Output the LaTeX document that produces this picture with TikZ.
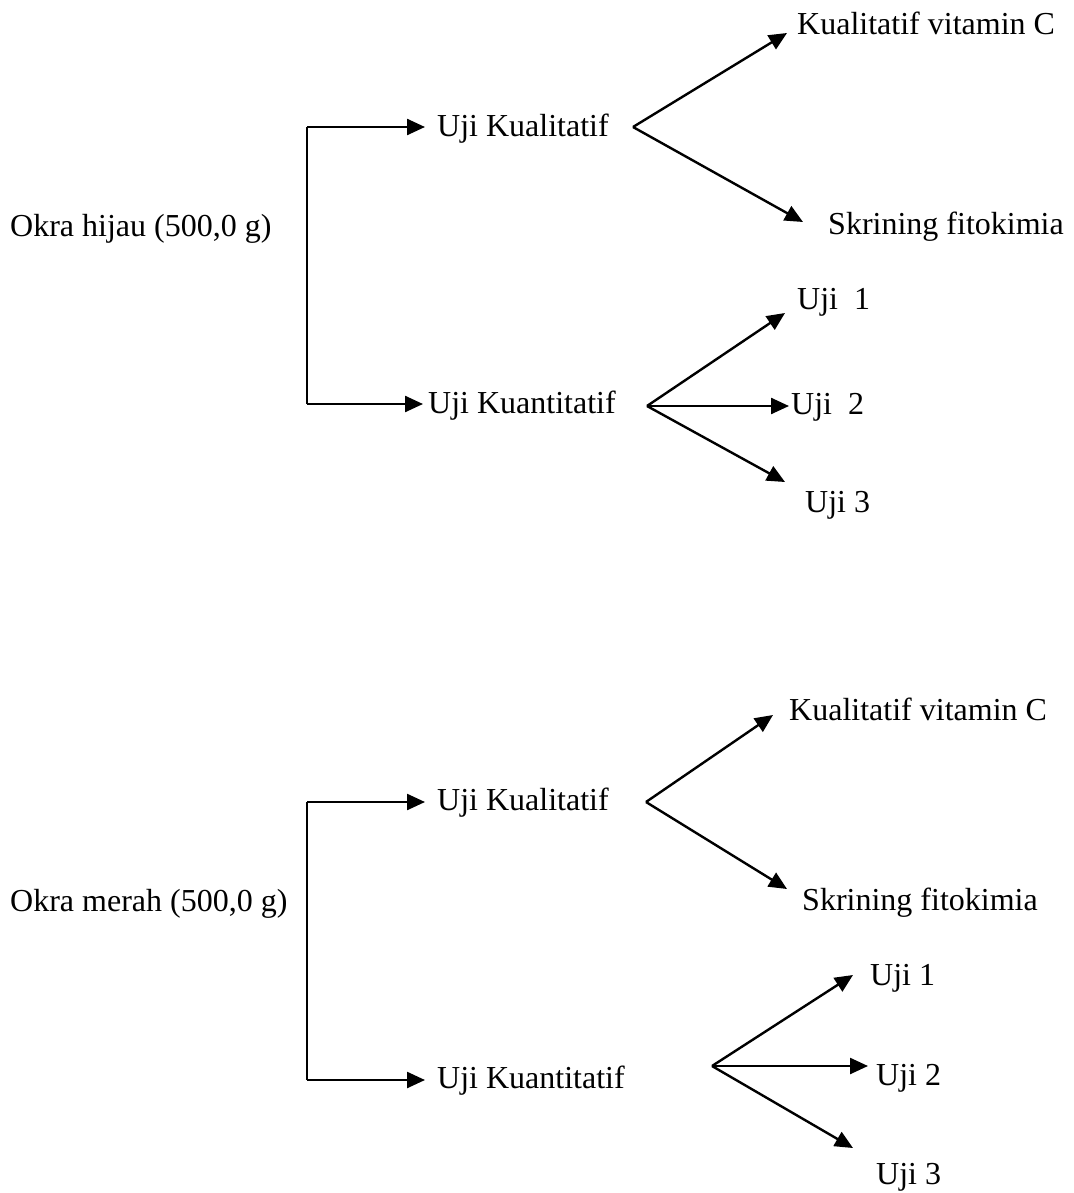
\documentclass[tikz,border=0pt]{standalone}
\usepackage{fontspec}
\setmainfont{Liberation Serif}
\usetikzlibrary{arrows.meta}
\tikzset{
  lbl/.style={anchor=base west, inner sep=0pt, font=\fontsize{32}{38}\selectfont},
  arr/.style={line width=2.4pt, -{Triangle[length=18pt,width=16pt]}},
  ln/.style={line width=2.4pt}
}
\begin{document}
\begin{tikzpicture}[x=1pt,y=-1pt]
\useasboundingbox (0,0) rectangle (1073,1193);
% ---------- group 1 ----------
\node[lbl] (okh) at (10,236) {Okra hijau (500,0 g)};
\coordinate (b1t) at (307,127);
\coordinate (b1b) at (307,404);
\coordinate (t1a) at (425,127);
\coordinate (t1b) at (423,404);
\node[lbl] (kl1) at (437,137) {Uji Kualitatif};
\node[lbl] (kn1) at (428,413) {Uji Kuantitatif};
\draw[ln] (b1b) -- (b1t);
\draw[arr] (b1t) -- (t1a);
\draw[arr] (b1b) -- (t1b);
\coordinate (f1) at (633,127);
\coordinate (f1a) at (787,33);
\coordinate (f1b) at (803,222);
\node[lbl] (vc1) at (797,35) {Kualitatif vitamin C};
\node[lbl] (sf1) at (828,234) {Skrining fitokimia};
\draw[arr] (f1) -- (f1a);
\draw[arr] (f1) -- (f1b);
\coordinate (f2) at (647,406);
\coordinate (f2a) at (785,313);
\coordinate (f2b) at (789,406);
\coordinate (f2c) at (785,482);
\node[lbl] (u11) at (797,309) {Uji~~1};
\node[lbl] (u12) at (791,414) {Uji~~2};
\node[lbl] (u13) at (805,512) {Uji 3};
\draw[arr] (f2) -- (f2a);
\draw[arr] (f2) -- (f2b);
\draw[arr] (f2) -- (f2c);
% ---------- group 2 ----------
\node[lbl] (okm) at (10,911) {Okra merah (500,0 g)};
\coordinate (b2t) at (307,802);
\coordinate (b2b) at (307,1080);
\coordinate (t2a) at (425,802);
\coordinate (t2b) at (425,1080);
\node[lbl] (kl2) at (437,810) {Uji Kualitatif};
\node[lbl] (kn2) at (437,1088) {Uji Kuantitatif};
\draw[ln] (b2b) -- (b2t);
\draw[arr] (b2t) -- (t2a);
\draw[arr] (b2b) -- (t2b);
\coordinate (f3) at (646,802);
\coordinate (f3a) at (773,715);
\coordinate (f3b) at (787,889);
\node[lbl] (vc2) at (789,720) {Kualitatif vitamin C};
\node[lbl] (sf2) at (802,910) {Skrining fitokimia};
\draw[arr] (f3) -- (f3a);
\draw[arr] (f3) -- (f3b);
\coordinate (f4) at (712,1066);
\coordinate (f4a) at (853,975);
\coordinate (f4b) at (868,1066);
\coordinate (f4c) at (853,1148);
\node[lbl] (u21) at (870,985) {Uji 1};
\node[lbl] (u22) at (876,1085) {Uji 2};
\node[lbl] (u23) at (876,1184) {Uji 3};
\draw[arr] (f4) -- (f4a);
\draw[arr] (f4) -- (f4b);
\draw[arr] (f4) -- (f4c);
\end{tikzpicture}
\end{document}
